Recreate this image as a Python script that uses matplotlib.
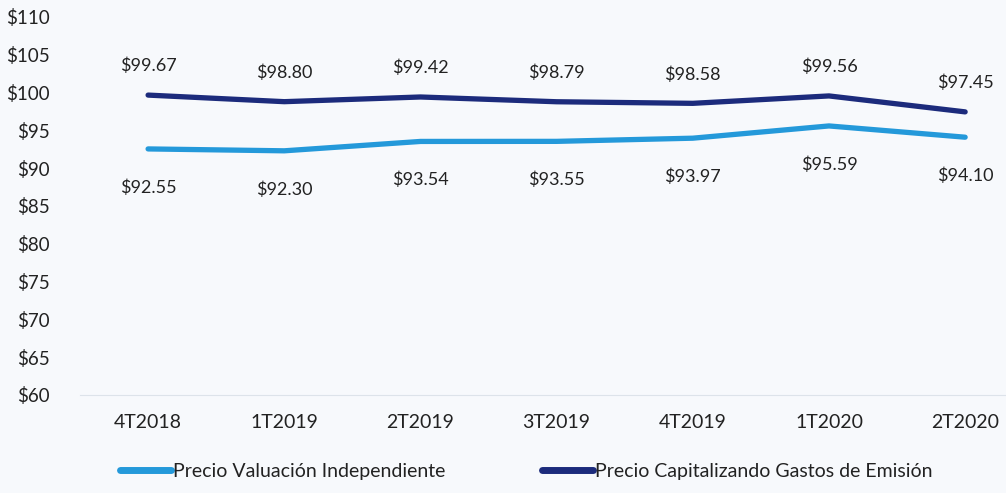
import matplotlib.pyplot as plt
import numpy as np

# datos
trimestres = ['4T2018', '1T2019', '2T2019', '3T2019', '4T2019', '1T2020', '2T2020']
precio_valuacion = [92.55, 92.30, 93.54, 93.55, 93.97, 95.59, 94.10]
precio_capitalizando = [99.67, 98.80, 99.42, 98.79, 98.58, 99.56, 97.45]
yticks = [60, 65, 70, 75, 80, 85, 90, 95, 100, 105, 110]

nombre_valuacion = 'Precio Valuación Independiente'
nombre_capitalizando = 'Precio Capitalizando Gastos de Emisión'

color_claro = '#2499da'
color_oscuro = '#1c2b7c'
fondo = '#f7f9fc'

plt.rcParams['font.family'] = ['Lato', 'DejaVu Sans']

fig = plt.figure(figsize=(10.06, 4.93), dpi=100)
fig.patch.set_facecolor(fondo)
ax = fig.add_axes([80/1006, 1 - 395/493, 1 - 80/1006, (395 - 17)/493])
ax.set_facecolor(fondo)

x = np.arange(len(trimestres))
ax.plot(x, precio_valuacion, color=color_claro, lw=3.8, label=nombre_valuacion,
        solid_capstyle='round')
ax.plot(x, precio_capitalizando, color=color_oscuro, lw=3.8, label=nombre_capitalizando,
        solid_capstyle='round')

# etiquetas de datos
for xi, v in zip(x, precio_capitalizando):
    ax.annotate(f'${v:.2f}', (xi, v), xytext=(0, 15), textcoords='offset points',
                ha='center', va='bottom', fontsize=13, color='#222222')
for xi, v in zip(x, precio_valuacion):
    ax.annotate(f'${v:.2f}', (xi, v), xytext=(0, -22), textcoords='offset points',
                ha='center', va='top', fontsize=13, color='#222222')

ax.set_xlim(-0.5, 6.3)
ax.set_ylim(60, 110)
ax.set_yticks(yticks)
ax.set_yticklabels([f'${t}' for t in yticks], fontsize=13.5, color='#222222')
ax.set_xticks(x)
ax.set_xticklabels(trimestres, fontsize=14, color='#222222')
ax.tick_params(axis='both', length=0)
ax.tick_params(axis='y', pad=22)
ax.tick_params(axis='x', pad=14)

for s in ['top', 'right', 'left']:
    ax.spines[s].set_visible(False)
ax.spines['bottom'].set_color('#dde3ea')
ax.spines['bottom'].set_linewidth(0.8)

leg = fig.legend(loc='center', bbox_to_anchor=(0.523, 0.043), ncol=2, frameon=False,
                 fontsize=14, handlelength=2.6, handletextpad=0.1, columnspacing=5)
for t in leg.get_texts():
    t.set_color('#222222')
for h in leg.get_lines():
    h.set_linewidth(5)

fig.savefig('out.png', dpi=100, facecolor=fondo)
